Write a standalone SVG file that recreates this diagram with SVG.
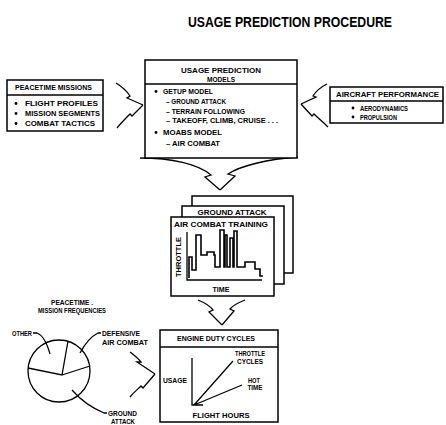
<svg xmlns="http://www.w3.org/2000/svg" width="446" height="425" viewBox="0 0 446 425">
<style>
.t{font-family:"Liberation Sans",Arial,sans-serif;font-weight:bold;fill:#000;font-size:7px}
.c{text-anchor:middle}
.box{fill:#fff;stroke:#000;stroke-width:1.5}
.ln{fill:none;stroke:#000;stroke-width:1.3}
.tr{fill:none;stroke:#000;stroke-width:1.6}
</style>
<rect width="446" height="425" fill="#fff"/>
<text class="t" x="188" y="27" style="font-size:15px" textLength="204" lengthAdjust="spacingAndGlyphs">USAGE PREDICTION PROCEDURE</text>

<g id="connectors">
<path class="ln" d="M116,83 C121,86 126,90 130,96 L127,98 L143,105"/>
<path class="ln" d="M117,128 C121,123 125,119 130,114 L132,116 L143,105"/>
<path class="ln" d="M327,84 C321,87 316,91 313,96 L316,97 L301,104"/>
<path class="ln" d="M328,127 C323,122 318,118 314,114 L312,116 L301,104"/>
<path class="ln" d="M140,158 C172,158 198,164 211,175 L205,177 L220,190"/>
<path class="ln" d="M298,157 C268,159 240,166 228,174 L235,176 L220,190"/>
<path class="ln" d="M198,300 C203,302 210,306 213,310 L209,312 L222,325"/>
<path class="ln" d="M245,300 C240,302 233,305 230,309 L234,311 L222,325"/>
<path class="ln" d="M130,352 C134,355 138,358 141,362 L137,362 L155,374"/>
<path class="ln" d="M130,397 C134,392 138,389 141,386 L143,388 L155,374"/>
</g>

<g id="peacetime-missions">
<rect class="box" x="7" y="80" width="96" height="51"/>
<line class="ln" x1="7" y1="95" x2="103" y2="95"/>
<text class="t" x="15" y="89.5" textLength="77" lengthAdjust="spacingAndGlyphs">PEACETIME MISSIONS</text>
<circle cx="16" cy="103.5" r="1.4"/><circle cx="16" cy="113.5" r="1.4"/><circle cx="16" cy="123.5" r="1.4"/>
<text class="t" x="25" y="106" textLength="73" lengthAdjust="spacingAndGlyphs">FLIGHT PROFILES</text>
<text class="t" x="25" y="116" textLength="75" lengthAdjust="spacingAndGlyphs">MISSION SEGMENTS</text>
<text class="t" x="25" y="126" textLength="70" lengthAdjust="spacingAndGlyphs">COMBAT TACTICS</text>
</g>

<g id="usage-prediction-models">
<rect class="box" x="145" y="60" width="152" height="98"/>
<line class="ln" x1="145" y1="84" x2="297" y2="84"/>
<text class="t c" x="221" y="72.5" textLength="80" lengthAdjust="spacingAndGlyphs">USAGE PREDICTION</text>
<text class="t c" x="221" y="81.5" textLength="28" lengthAdjust="spacingAndGlyphs">MODELS</text>
<circle cx="156" cy="91.5" r="1.4"/><circle cx="156" cy="132.5" r="1.4"/>
<text class="t" x="163" y="94" textLength="50" lengthAdjust="spacingAndGlyphs">GETUP MODEL</text>
<text class="t" x="166" y="104" textLength="60" lengthAdjust="spacingAndGlyphs">– GROUND ATTACK</text>
<text class="t" x="166" y="114" textLength="79" lengthAdjust="spacingAndGlyphs">– TERRAIN FOLLOWING</text>
<text class="t" x="166" y="123" textLength="112" lengthAdjust="spacingAndGlyphs">– TAKEOFF, CLIMB, CRUISE . . .</text>
<text class="t" x="163" y="135" textLength="59" lengthAdjust="spacingAndGlyphs">MOABS MODEL</text>
<text class="t" x="166" y="146" textLength="54" lengthAdjust="spacingAndGlyphs">– AIR COMBAT</text>
</g>

<g id="aircraft-performance">
<rect class="box" x="330" y="87" width="113" height="36"/>
<line class="ln" x1="330" y1="101" x2="443" y2="101"/>
<text class="t" x="336" y="97" textLength="103" lengthAdjust="spacingAndGlyphs">AIRCRAFT PERFORMANCE</text>
<circle cx="353" cy="108" r="1.4"/><circle cx="353" cy="117" r="1.4"/>
<text class="t" x="360" y="110.5" textLength="48" lengthAdjust="spacingAndGlyphs">AERODYNAMICS</text>
<text class="t" x="360" y="119.5" textLength="37" lengthAdjust="spacingAndGlyphs">PROPULSION</text>
</g>

<g id="throttle-profiles">
<rect class="box" x="192" y="196" width="101" height="77"/>
<rect class="box" x="182" y="206" width="102" height="78"/>
<text class="t c" x="232" y="214.5" textLength="69" lengthAdjust="spacingAndGlyphs">GROUND ATTACK</text>
<rect class="box" x="171" y="217" width="103" height="79"/>
<text class="t c" x="221" y="226.5" textLength="94" lengthAdjust="spacingAndGlyphs">AIR COMBAT TRAINING</text>
<path class="ln" d="M187,232 V280 H262"/>
<path class="tr" d="M189,278 V257 H192 V270 H196 V235 H201 V255 H207 V252 H214 V255 H215 V267 H220 V230 H224 V267 H225 V235 H227 V267 H230 V238 H233 V267 H234 V231 H237 V267 H245 V262 H255 V269 H260 V276 H263"/>
<text class="t c" transform="translate(181,257) rotate(-90)" x="0" y="0" textLength="40" lengthAdjust="spacingAndGlyphs">THROTTLE</text>
<text class="t c" x="221" y="291.5" textLength="17" lengthAdjust="spacingAndGlyphs">TIME</text>
</g>

<g id="mission-frequencies">
<text class="t c" x="72" y="305" textLength="42" lengthAdjust="spacingAndGlyphs">PEACETIME .</text>
<text class="t c" x="72" y="313" textLength="68" lengthAdjust="spacingAndGlyphs">MISSION FREQUENCIES</text>
<circle class="ln" cx="59" cy="371" r="31"/>
<path class="ln" d="M28,368 L62,375 L68,341 M62,375 L90,366"/>
<text class="t" x="12" y="336" textLength="20" lengthAdjust="spacingAndGlyphs">OTHER</text>
<path class="ln" d="M33,333 H37 Q45,336 50,354"/>
<text class="t" x="102" y="336" textLength="38" lengthAdjust="spacingAndGlyphs">DEFENSIVE</text>
<text class="t" x="102" y="345" textLength="46" lengthAdjust="spacingAndGlyphs">AIR COMBAT</text>
<path class="ln" d="M101,333 H98 Q88,338 80,353"/>
<text class="t" x="108" y="416" textLength="29" lengthAdjust="spacingAndGlyphs">GROUND</text>
<text class="t" x="111" y="424" textLength="24" lengthAdjust="spacingAndGlyphs">ATTACK</text>
<path class="ln" d="M107,413 H104 Q85,405 72,390"/>
</g>

<g id="engine-duty-cycles">
<rect class="box" x="160" y="330" width="118" height="92"/>
<line class="ln" x1="160" y1="347" x2="278" y2="347"/>
<text class="t c" x="216" y="340.5" textLength="78" lengthAdjust="spacingAndGlyphs">ENGINE DUTY CYCLES</text>
<path class="ln" d="M192,358 V405 H203 M194,405 L233,361 M194,405 L242,385"/>
<text class="t c" x="250" y="355.5" textLength="30" lengthAdjust="spacingAndGlyphs">THROTTLE</text>
<text class="t c" x="250" y="363.5" textLength="26" lengthAdjust="spacingAndGlyphs">CYCLES</text>
<text class="t c" x="254" y="382.5" textLength="12" lengthAdjust="spacingAndGlyphs">HOT</text>
<text class="t c" x="255" y="389.5" textLength="15" lengthAdjust="spacingAndGlyphs">TIME</text>
<text class="t c" x="175" y="382.5" textLength="24" lengthAdjust="spacingAndGlyphs">USAGE</text>
<text class="t c" x="221" y="417.5" textLength="57" lengthAdjust="spacingAndGlyphs">FLIGHT HOURS</text>
</g>
</svg>
